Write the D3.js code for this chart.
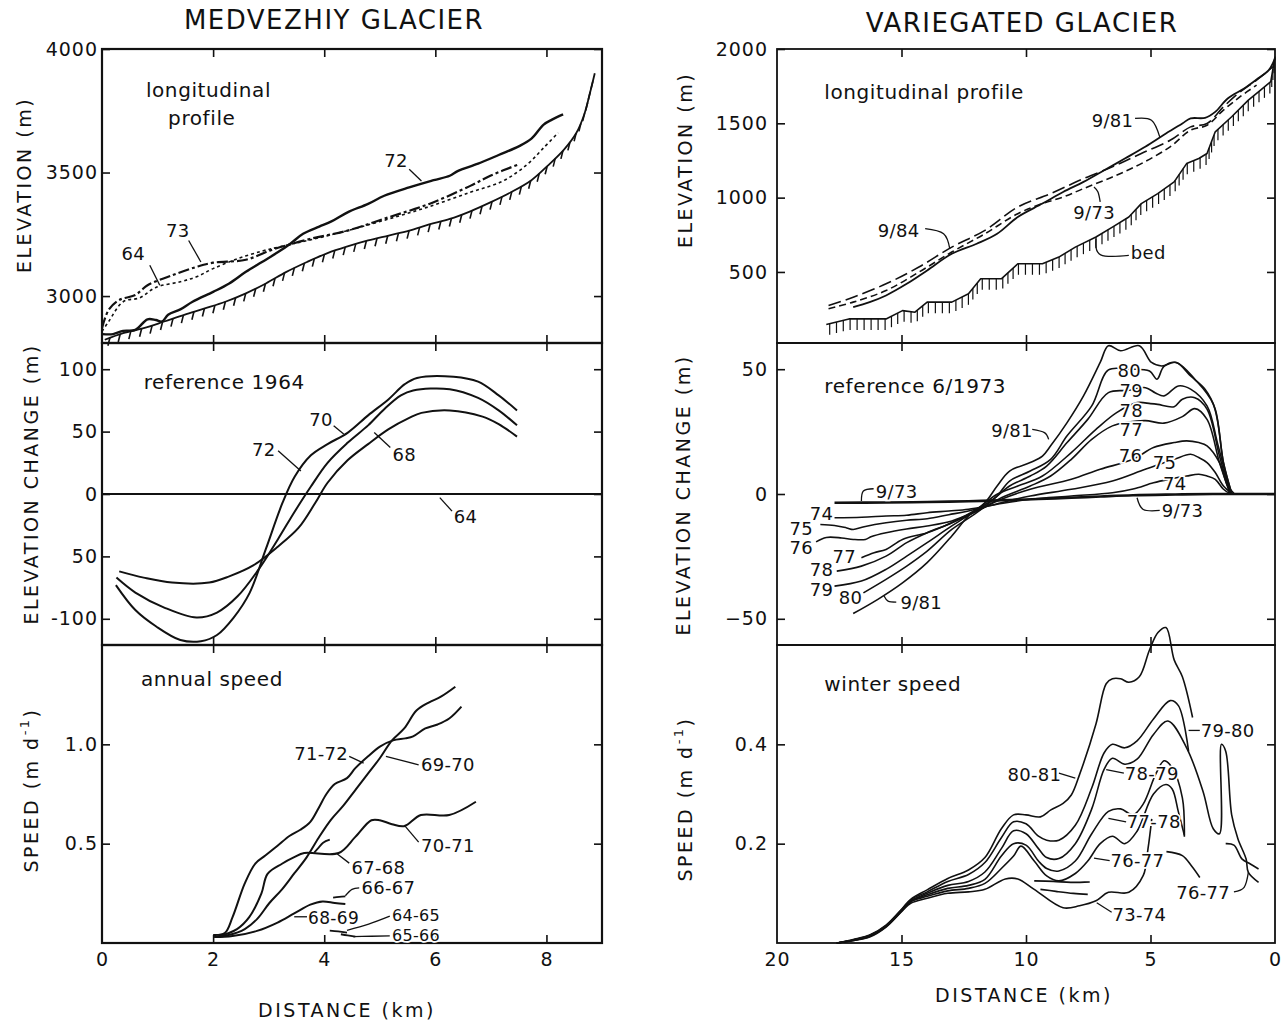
<!DOCTYPE html>
<html>
<head>
<meta charset="utf-8">
<script src="https://cdn.jsdelivr.net/npm/d3@7"></script>
<style>
  body { margin: 0; background: #fff; }
  text { font-family: "DejaVu Sans", sans-serif; fill: #111; }
  .tick text { font-size: 19px; letter-spacing: 1px; }
</style>
</head>
<body>
<svg id="chart"></svg>
<script>
// ---------- tick values / labels ----------
var medDistTicks = [0, 2, 4, 6, 8];
var medElevTicks = [3000, 3500, 4000];
var medChangeTicks = [-100, -50, 0, 50, 100];
var medChangeLabels = ["-100", "50", "0", "50", "100"];
var medSpeedTicks = [0.5, 1.0];
var varDistTicks = [20, 15, 10, 5, 0];
var varElevTicks = [500, 1000, 1500, 2000];
var varChangeTicks = [-50, 0, 50];
var varSpeedTicks = [0.2, 0.4];

// ---------- Medvezhiy: longitudinal profile (km, m) ----------
var med72 = [[0.01,2846],[0.2,2846],[0.38,2859],[0.6,2863],[0.82,2906],[0.97,2903],[1.08,2897],[1.19,2924],[1.41,2946],[1.63,2977],[2.0,3017],[2.29,3051],[2.59,3098],[2.88,3138],[3.17,3178],[3.39,3212],[3.62,3252],[3.91,3281],[4.13,3302],[4.42,3339],[4.79,3373],[5.08,3406],[5.53,3440],[5.97,3469],[6.26,3487],[6.41,3507],[6.77,3536],[7.14,3571],[7.51,3607],[7.73,3637],[7.95,3694],[8.1,3714],[8.3,3735]];
var med73 = [[0.0,2870],[0.12,2944],[0.31,2984],[0.6,3004],[0.71,3024],[0.82,3044],[1.26,3084],[1.7,3118],[2.0,3135],[2.59,3147],[3.03,3185],[3.32,3205],[3.76,3232],[4.42,3265],[5.16,3319],[5.89,3373],[6.63,3446],[6.99,3487],[7.51,3534]];
var med64 = [[0.0,2857],[0.12,2897],[0.38,2977],[0.68,2993],[0.97,3035],[1.41,3058],[1.7,3078],[2.0,3111],[2.44,3151],[2.88,3182],[3.17,3198],[3.76,3228],[4.42,3265],[5.16,3312],[5.89,3362],[6.63,3420],[7.22,3466],[7.66,3534],[7.95,3600],[8.21,3661]];
var medBed = [[0.05,2823],[0.38,2850],[0.75,2870],[1.12,2897],[1.48,2924],[1.85,2950],[2.22,2977],[2.59,3011],[2.95,3051],[3.32,3098],[3.69,3138],[4.06,3174],[4.42,3201],[4.79,3225],[5.16,3245],[5.53,3265],[5.89,3290],[6.26,3312],[6.63,3343],[6.99,3379],[7.36,3420],[7.73,3469],[8.02,3527],[8.32,3594],[8.54,3661],[8.68,3735],[8.79,3828],[8.87,3902]];

// ---------- Medvezhiy: elevation change, reference 1964 (km, m) ----------
var medChg64 = [[0,0],[9,0]];
var medChg68 = [[0.31,-62],[0.75,-67],[1.26,-71],[1.93,-71],[2.29,-66],[2.73,-57],[3.17,-42],[3.54,-27],[3.84,-7],[4.06,9],[4.42,27],[4.79,40],[5.16,52],[5.53,61],[5.75,65],[6.26,67],[6.85,62],[7.14,56],[7.47,46]];
var medChg70 = [[0.26,-67],[0.6,-79],[1.12,-91],[1.7,-99],[2.07,-95],[2.44,-82],[2.81,-61],[3.17,-36],[3.47,-14],[3.76,6],[4.06,25],[4.42,41],[4.79,55],[5.08,68],[5.38,79],[5.6,83],[6.26,84],[6.77,77],[7.14,67],[7.47,55]];
var medChg72 = [[0.25,-73],[0.6,-93],[0.97,-106],[1.41,-117],[1.78,-118],[2.07,-113],[2.37,-99],[2.66,-79],[2.95,-44],[3.25,-7],[3.47,14],[3.76,31],[4.06,40],[4.42,49],[4.79,63],[5.16,76],[5.45,88],[5.67,93],[6.33,94],[6.77,90],[7.14,79],[7.47,67]];

// ---------- Medvezhiy: annual speed (km, m/d) ----------
var medSpd7172 = [[2.0,0.04],[2.21,0.05],[2.35,0.13],[2.57,0.30],[2.76,0.40],[2.94,0.44],[3.16,0.49],[3.38,0.54],[3.57,0.57],[3.75,0.61],[3.9,0.68],[4.04,0.75],[4.19,0.80],[4.41,0.83],[4.56,0.88],[4.79,0.94],[5.01,0.99],[5.24,1.02],[5.46,1.03],[5.6,1.04],[5.82,1.08],[6.04,1.10],[6.25,1.13],[6.47,1.19]];
var medSpd6970 = [[2.02,0.03],[2.28,0.04],[2.57,0.07],[2.79,0.12],[3.01,0.20],[3.24,0.27],[3.46,0.35],[3.68,0.43],[3.9,0.53],[4.12,0.62],[4.34,0.69],[4.56,0.77],[4.78,0.85],[5.0,0.93],[5.22,1.02],[5.44,1.08],[5.66,1.17],[5.88,1.21],[6.1,1.24],[6.36,1.29]];
var medSpd7071 = [[2.06,0.03],[2.43,0.07],[2.65,0.13],[2.87,0.25],[2.98,0.348],[3.24,0.399],[3.46,0.432],[3.64,0.453],[4.26,0.453],[4.56,0.534],[4.85,0.618],[5.0,0.618],[5.22,0.598],[5.44,0.588],[5.74,0.644],[6.25,0.644],[6.73,0.711]];
var medSpd6768 = [[3.82,0.455],[3.9,0.48],[3.98,0.505],[4.1,0.52]];
var medSpd6869 = [[2.02,0.03],[2.35,0.035],[2.79,0.061],[3.16,0.103],[3.46,0.149],[3.75,0.193],[3.97,0.209],[4.19,0.201],[4.38,0.196]];
var medSpd6667 = [[4.16,0.228],[4.27,0.232],[4.38,0.235]];
var medSpd6465 = [[4.1,0.062],[4.25,0.058],[4.41,0.052]];
var medSpd6566 = [[4.3,0.044],[4.42,0.038],[4.56,0.032]];

// ---------- Variegated: longitudinal profile (km, m) ----------
var var981 = [[16.94,263],[16.28,297],[15.62,342],[14.79,420],[13.97,510],[12.98,622],[11.98,690],[11.16,757],[10.33,870],[9.34,960],[8.51,1038],[7.69,1106],[6.86,1184],[6.03,1263],[5.21,1342],[4.38,1431],[3.72,1499],[3.39,1533],[2.81,1537],[2.4,1577],[1.9,1667],[1.24,1735],[0.74,1795],[0.25,1858],[0.0,1937]];
var var984 = [[17.93,274],[16.94,330],[15.62,420],[14.3,533],[12.98,667],[11.65,780],[10.33,937],[9.01,1027],[7.69,1128],[6.53,1207],[5.37,1297],[4.21,1386],[3.39,1476],[2.73,1499],[2.07,1611],[1.4,1712],[0.74,1791],[0.08,1881]];
var var973 = [[17.93,252],[16.94,297],[15.62,375],[14.3,499],[12.98,634],[11.65,757],[10.33,892],[9.34,960],[8.51,1004],[7.69,1061],[6.53,1139],[5.37,1229],[4.21,1342],[3.39,1454],[2.73,1487],[2.07,1589],[1.4,1679],[0.74,1757]];
var varBed = [[18.02,146],[17.11,184],[15.62,184],[14.96,240],[14.46,229],[13.97,297],[12.98,297],[12.31,353],[11.82,454],[10.99,454],[10.33,555],[9.34,555],[8.68,600],[8.02,667],[7.19,735],[6.53,802],[5.87,870],[5.37,960],[4.71,1027],[4.05,1106],[3.55,1229],[3.06,1263],[2.73,1297],[2.4,1443],[1.74,1544],[1.07,1656],[0.58,1724],[0.17,1780],[0.0,1948]];

// ---------- Variegated: elevation change, reference 6/1973 (km, m) ----------
var varChg973 = [[17.69,-3.5],[15.6,-3.4],[13.97,-3.2],[12.3,-2.9],[10.66,-2.4],[9.5,-2.0],[8.18,-1.5],[7.0,-1.0],[5.7,-0.5],[4.0,-0.2],[2.5,0],[1.5,0],[0,0]];
var varChg74 = [[17.69,-9.5],[16.6,-9.3],[15.62,-8.8],[14.8,-8.5],[13.97,-7.5],[13.1,-6.8],[12.31,-6.1],[11.16,-4.1],[9.83,-2.1],[8.18,-0.8],[6.53,0.5],[5.7,2.0],[4.88,4.5],[4.2,6.0],[3.55,7.2],[3.06,7.9],[2.73,7.2],[2.4,5.9],[2.07,1.9],[1.82,0.3],[1.5,0]];
var varChg75 = [[18.26,-12.2],[17.69,-12.6],[17.2,-13.6],[16.94,-14.2],[16.5,-13.1],[15.62,-11.5],[14.79,-10.5],[13.97,-9.9],[13.1,-8.3],[12.31,-6.8],[10.99,-3.5],[9.83,-0.8],[8.18,1.9],[6.53,5.2],[5.21,9.9],[4.05,13.9],[3.39,15.9],[3.06,14.6],[2.73,12.6],[2.4,8.6],[2.07,3.2],[1.74,0.3]];
var varChg76 = [[18.43,-19.2],[18.02,-17.4],[17.4,-17.6],[16.94,-18.2],[16.45,-18.2],[16.2,-17.0],[15.62,-15.5],[14.8,-14.0],[13.97,-12.8],[12.98,-10.8],[11.98,-6.8],[10.99,-2.1],[9.83,1.9],[8.18,5.9],[7.02,9.9],[5.7,13.9],[4.88,18.6],[4.05,20.6],[3.55,21.3],[3.06,20.6],[2.73,19.3],[2.23,12.6],[1.9,3.2],[1.65,0.3]];
var varChg77 = [[16.61,-25.5],[16.1,-23.5],[15.62,-22.2],[14.96,-18.2],[13.97,-15.5],[12.98,-11.5],[11.82,-6.1],[10.99,-1.5],[9.83,3.2],[9.01,7.2],[8.18,13.9],[7.36,21.9],[6.53,27.3],[5.9,28.8],[5.21,29.4],[4.46,28.4],[3.72,31.0],[3.22,34.2],[2.73,29.9],[2.23,12.6],[1.82,0.5]];
var varChg78 = [[17.6,-30.9],[16.61,-28.9],[15.62,-24.9],[14.79,-19.5],[13.97,-15.5],[12.98,-11.5],[11.98,-6.1],[11.16,-0.1],[10.33,3.2],[9.34,7.2],[8.18,16.6],[7.19,25.9],[6.36,32.6],[5.54,36.6],[5.0,36.2],[4.71,35.9],[4.05,35.0],[3.72,38.0],[3.22,38.6],[2.73,34.0],[2.23,15.2],[1.82,0.5]];
var varChg79 = [[17.69,-36.9],[16.61,-34.9],[15.62,-30.2],[14.79,-24.9],[13.97,-19.5],[12.98,-12.8],[12.15,-7.5],[11.32,-2.1],[10.66,3.2],[9.83,7.2],[9.17,11.2],[8.35,20.6],[7.52,29.9],[6.69,40.6],[5.9,41.5],[5.2,42.6],[4.8,40.5],[4.46,39.3],[3.88,43.3],[3.39,42.0],[2.73,35.3],[2.3,20.0],[1.8,0.5]];
var varChg80 = [[16.53,-39.6],[15.62,-34.2],[14.79,-28.9],[13.97,-22.9],[12.98,-14.2],[11.98,-7.5],[11.16,-0.8],[10.66,5.2],[9.83,9.2],[9.01,13.9],[8.35,23.3],[7.36,35.3],[6.69,49.7],[5.87,50],[5.04,49.3],[4.74,46.0],[4.46,51.1],[3.97,52.7],[3.39,47.3],[2.81,42.0],[2.4,34.0],[2.07,12.6],[1.74,0.3]];
var varChg981 = [[16.94,-47.9],[15.95,-42.2],[14.96,-35.6],[13.97,-27.5],[12.98,-16.8],[12.31,-8.8],[11.65,-3.5],[11.16,3.2],[10.66,9.2],[9.83,12.6],[9.34,15.2],[9.01,19.3],[8.35,28.6],[7.69,39.3],[7.02,52.7],[6.69,59.4],[6.2,57.4],[5.45,59.4],[4.96,52.7],[4.55,51.3],[3.97,52.7],[3.22,46.0],[2.48,36.0],[2.07,12.6],[1.74,0.3]];

// ---------- Variegated: winter speed (km, m/d) ----------
var varSpd8081 = [[17.6,0],[16.94,0.007],[16.28,0.016],[15.62,0.036],[14.96,0.07],[14.63,0.088],[13.97,0.107],[13.14,0.13],[12.31,0.147],[11.65,0.172],[10.99,0.23],[10.5,0.258],[10.0,0.258],[9.42,0.254],[9.0,0.268],[8.51,0.281],[8.18,0.298],[7.85,0.339],[7.19,0.441],[6.78,0.522],[6.53,0.532],[6.2,0.532],[5.87,0.525],[5.45,0.536],[5.04,0.59],[4.7,0.625],[4.38,0.635],[4.05,0.57],[3.72,0.536],[3.31,0.454]];
var varSpd7980 = [[17.6,0],[16.94,0.006],[16.28,0.015],[15.62,0.035],[14.96,0.069],[14.63,0.087],[13.97,0.103],[13.14,0.124],[12.31,0.138],[11.65,0.162],[10.99,0.212],[10.5,0.244],[10.0,0.24],[9.5,0.215],[9.17,0.207],[8.68,0.207],[8.02,0.237],[7.36,0.312],[6.86,0.383],[6.53,0.4],[6.03,0.393],[5.54,0.407],[4.88,0.451],[4.21,0.488],[3.88,0.478],[3.47,0.386]];
var varSpd7879 = [[17.6,0],[16.94,0.006],[16.28,0.015],[15.62,0.034],[14.96,0.068],[14.63,0.085],[13.97,0.1],[13.14,0.116],[12.31,0.124],[11.65,0.143],[10.99,0.19],[10.5,0.226],[10.0,0.22],[9.5,0.19],[9.17,0.172],[8.68,0.17],[8.02,0.2],[7.36,0.27],[6.86,0.35],[6.53,0.372],[6.03,0.36],[5.54,0.37],[4.88,0.42],[4.3,0.447],[3.55,0.393],[2.89,0.305],[2.48,0.23],[2.23,0.22],[2.15,0.4],[1.98,0.386],[1.74,0.258],[1.49,0.21],[1.16,0.169],[1.07,0.142],[0.66,0.122]];
var varSpd7778 = [[17.6,0],[16.94,0.005],[16.28,0.014],[15.62,0.034],[14.96,0.067],[14.63,0.084],[13.97,0.097],[13.14,0.11],[12.31,0.116],[11.65,0.128],[10.99,0.175],[10.5,0.2],[10.0,0.197],[9.5,0.165],[9.17,0.15],[8.68,0.145],[8.02,0.165],[7.36,0.22],[6.69,0.265],[6.2,0.27],[5.7,0.258],[5.29,0.28],[4.79,0.34],[4.45,0.367],[4.13,0.353],[3.72,0.292],[3.64,0.214]];
var varSpd7677 = [[17.6,0],[16.94,0.005],[16.28,0.013],[15.62,0.033],[14.96,0.066],[14.63,0.083],[13.97,0.094],[13.14,0.105],[12.31,0.11],[11.65,0.12],[10.99,0.15],[10.5,0.175],[10.2,0.195],[9.67,0.165],[9.17,0.135],[8.68,0.125],[8.02,0.14],[7.52,0.165],[7.02,0.2],[6.53,0.215],[6.03,0.2],[5.54,0.225],[4.88,0.3],[4.38,0.319],[4.13,0.31],[3.88,0.264],[3.64,0.217]];
var varSpd7677b = [[4.36,0.184],[3.72,0.176],[3.35,0.155],[3.02,0.132]];
var varSpd7374 = [[17.6,0],[16.94,0.005],[16.28,0.012],[15.62,0.032],[14.96,0.065],[14.63,0.08],[13.97,0.09],[13.14,0.1],[12.31,0.103],[11.65,0.108],[10.83,0.129],[10.33,0.129],[9.67,0.108],[8.51,0.071],[7.85,0.075],[7.19,0.085],[6.69,0.102],[5.87,0.102],[5.29,0.136],[5.1,0.19],[4.95,0.25]];
var varSpdSeg1 = [[9.67,0.125],[8.9,0.124],[8.2,0.122],[7.44,0.123]];
var varSpdSeg2 = [[9.42,0.108],[8.8,0.104],[8.1,0.1],[7.52,0.098]];
var varSpdRight = [[1.98,0.2],[1.65,0.197],[1.32,0.169],[0.99,0.159],[0.66,0.149]];

// ---------- layout ----------
var svg = d3.select("#chart").attr("width", 1285).attr("height", 1025);

var rows = [{ top: 49, bottom: 343 }, { top: 343, bottom: 645 }, { top: 645, bottom: 943 }];

function panel(cfg) {
  var x = d3.scaleLinear().domain(cfg.xDomain).range([cfg.left, cfg.right]);
  var y = d3.scaleLinear().domain(cfg.yDomain).range([cfg.bottom, cfg.top]);
  var g = svg.append("g");

  // inward ticks on all four sides
  var strip = function (s) { s.select(".domain").remove(); s.selectAll("line").attr("stroke", "#111").attr("stroke-width", 1.6); };
  g.append("g").attr("transform", "translate(0," + cfg.top + ")")
    .call(d3.axisBottom(x).tickValues(cfg.innerX).tickSize(8).tickFormat("")).call(strip);
  g.append("g").attr("transform", "translate(0," + cfg.bottom + ")")
    .call(d3.axisTop(x).tickValues(cfg.innerX).tickSize(8).tickFormat("")).call(strip);
  g.append("g").attr("transform", "translate(" + cfg.left + ",0)")
    .call(d3.axisRight(y).tickValues(cfg.yTicks).tickSize(8).tickFormat("")).call(strip);
  g.append("g").attr("transform", "translate(" + cfg.right + ",0)")
    .call(d3.axisLeft(y).tickValues(cfg.yTicks).tickSize(8).tickFormat("")).call(strip);

  // y tick labels
  g.append("g").attr("transform", "translate(" + cfg.left + ",0)")
    .call(d3.axisLeft(y).tickValues(cfg.yTicks).tickSize(0).tickPadding(cfg.labelPad)
      .tickFormat(function (d, i) { return cfg.yLabels ? cfg.yLabels[i] : cfg.yFormat(d); }))
    .call(function (s) { s.select(".domain").remove(); });

  // x tick labels (bottom row only)
  if (cfg.xLabels) {
    g.append("g").attr("transform", "translate(0," + cfg.bottom + ")")
      .call(d3.axisBottom(x).tickValues(cfg.xLabels).tickSize(0).tickPadding(10).tickFormat(d3.format("d")))
      .call(function (s) { s.select(".domain").remove(); });
  }

  g.append("rect")
    .attr("x", cfg.left).attr("y", cfg.top)
    .attr("width", cfg.right - cfg.left).attr("height", cfg.bottom - cfg.top)
    .attr("fill", "none").attr("stroke", "#111").attr("stroke-width", cfg.frame);

  return { x: x, y: y, g: g };
}

function curve(p, data, opt) {
  opt = opt || {};
  var line = d3.line()
    .x(function (d) { return p.x(d[0]); })
    .y(function (d) { return p.y(d[1]); })
    .curve(opt.curve || d3.curveCatmullRom.alpha(0.5));
  return p.g.append("path")
    .datum(data)
    .attr("d", line)
    .attr("fill", "none")
    .attr("stroke", "#111")
    .attr("stroke-width", opt.width || 1.8)
    .attr("stroke-linejoin", "round")
    .attr("stroke-dasharray", opt.dash || null);
}

function hachure(p, path, step, len, dx, w) {
  var node = path.node(), total = node.getTotalLength();
  var pts = d3.range(step / 2, total, step).map(function (s) { return node.getPointAtLength(s); });
  p.g.append("g").selectAll("line").data(pts).enter().append("line")
    .attr("x1", function (d) { return d.x; })
    .attr("y1", function (d) { return d.y; })
    .attr("x2", function (d) { return d.x + dx; })
    .attr("y2", function (d) { return d.y + len; })
    .attr("stroke", "#111").attr("stroke-width", w);
}

function label(p, text, at, size, leader, anchor) {
  if (leader) {
    p.g.append("path")
      .datum(leader)
      .attr("d", d3.line().x(function (d) { return p.x(d[0]); }).y(function (d) { return p.y(d[1]); }).curve(d3.curveNatural))
      .attr("fill", "none").attr("stroke", "#111").attr("stroke-width", 1.3);
  }
  p.g.append("text")
    .attr("x", p.x(at[0])).attr("y", p.y(at[1]))
    .attr("dominant-baseline", "central")
    .attr("text-anchor", anchor || "start")
    .style("font-size", (size || 18) + "px")
    .style("letter-spacing", size >= 19 ? "0.6px" : "0.3px")
    .style("paint-order", "stroke")
    .style("stroke", "#fff").style("stroke-width", 3.5)
    .text(text);
}

function axisTitle(x, y, parts, rotate) {
  var t = svg.append("text")
    .attr("transform", "translate(" + x + "," + y + ")" + (rotate ? " rotate(-90)" : ""))
    .attr("text-anchor", "middle").attr("dominant-baseline", "central")
    .style("font-size", "19px").style("letter-spacing", "2.5px");
  parts.forEach(function (s) {
    var ts = t.append("tspan").text(s[0]);
    if (s[1]) ts.attr("dy", s[1]);
    if (s[2]) ts.style("font-size", s[2]);
  });
}

var L = { left: 102, right: 602, xDomain: [0, 9], innerX: [2, 4, 6, 8], labelPad: 4, frame: 2.2 };
var R = { left: 777, right: 1275, xDomain: [20, 0], innerX: [15, 10, 5], labelPad: 9, frame: 1.8 };

function cfg(side, row, extra) { return Object.assign({}, side, rows[row], extra); }

// ================= MEDVEZHIY =================
var m1 = panel(cfg(L, 0, { yDomain: [2810, 4000], yTicks: medElevTicks, yFormat: d3.format("d") }));
var m2 = panel(cfg(L, 1, { yDomain: [-121, 121], yTicks: medChangeTicks, yLabels: medChangeLabels }));
var m3 = panel(cfg(L, 2, { yDomain: [0, 1.5], yTicks: medSpeedTicks, yFormat: d3.format(".1f"), xLabels: medDistTicks }));

var mb = curve(m1, medBed, { width: 1.8 });
hachure(m1, mb, 11, 8, -2, 1.6);
curve(m1, med64, { width: 1.6, dash: "3,3" });
curve(m1, med73, { width: 2.2, dash: "11,3,3,3" });
curve(m1, med72, { width: 2.4 });
label(m1, "longitudinal", [0.79, 3835], 20);
label(m1, "profile", [1.19, 3721], 20);
label(m1, "72", [5.08, 3550], 18, [[5.53, 3513], [5.75, 3466]]);
label(m1, "73", [1.15, 3265], 18, [[1.56, 3225], [1.78, 3138]]);
label(m1, "64", [0.35, 3172], 18, [[0.86, 3125], [1.04, 3044]]);

curve(m2, medChg64, { width: 1.8, curve: d3.curveLinear });
curve(m2, medChg68, { width: 2 });
curve(m2, medChg70, { width: 2 });
curve(m2, medChg72, { width: 2 });
label(m2, "reference 1964", [0.75, 89.5], 20);
label(m2, "70", [3.73, 60], 18, [[4.17, 54.7], [4.35, 48]]);
label(m2, "72", [2.7, 35.9], 18, [[3.17, 34.6], [3.58, 18.5]]);
label(m2, "68", [5.23, 31.9], 18, [[4.9, 49.3], [5.19, 37.3]]);
label(m2, "64", [6.33, -17.7], 18, [[6.08, -2.9], [6.3, -13.7]]);

curve(m3, medSpd7172, { width: 2 });
curve(m3, medSpd6970, { width: 2 });
curve(m3, medSpd7071, { width: 2 });
curve(m3, medSpd6768, { width: 1.8 });
curve(m3, medSpd6869, { width: 2 });
curve(m3, medSpd6667, { width: 1.8 });
curve(m3, medSpd6465, { width: 1.8 });
curve(m3, medSpd6566, { width: 1.8 });
label(m3, "annual speed", [0.7, 1.328], 20);
label(m3, "71-72", [3.46, 0.956], 18, [[4.45, 0.939], [4.71, 0.905]]);
label(m3, "69-70", [5.74, 0.897], 18, [[5.11, 0.939], [5.7, 0.897]]);
label(m3, "70-71", [5.74, 0.492], 18, [[5.44, 0.593], [5.7, 0.508]]);
label(m3, "67-68", [4.49, 0.382], 18, [[4.23, 0.449], [4.45, 0.402]]);
label(m3, "66-67", [4.67, 0.28], 18, [[4.38, 0.238], [4.5, 0.27], [4.63, 0.277]]);
label(m3, "68-69", [3.71, 0.128], 17, [[3.46, 0.132], [3.69, 0.132]]);
label(m3, "64-65", [5.22, 0.14], 16, [[4.41, 0.064], [4.8, 0.095], [5.18, 0.135]]);
label(m3, "65-66", [5.22, 0.036], 16, [[4.52, 0.032], [4.85, 0.034], [5.18, 0.036]]);

// ================= VARIEGATED =================
var v1 = panel(cfg(R, 0, { yDomain: [22, 2000], yTicks: varElevTicks, yFormat: d3.format("d") }));
var v2 = panel(cfg(R, 1, { yDomain: [-60.5, 60.5], yTicks: varChangeTicks, yFormat: d3.format("d") }));
var v3 = panel(cfg(R, 2, { yDomain: [0, 0.6], yTicks: varSpeedTicks, yFormat: d3.format(".1f"), xLabels: varDistTicks }));

var vb = curve(v1, varBed, { width: 1.6, curve: d3.curveLinear });
hachure(v1, vb, 7, 11, 0, 1.2);
curve(v1, var973, { width: 1.6, dash: "7,4" });
curve(v1, var984, { width: 1.6, dash: "13,5" });
curve(v1, var981, { width: 1.8 });
label(v1, "longitudinal profile", [18.1, 1712], 20);
label(v1, "9/81", [7.36, 1521], 18, [[5.62, 1533], [4.96, 1521], [4.63, 1409]]);
label(v1, "9/84", [15.95, 780], 18, [[14.05, 791], [13.31, 757], [13.06, 656]]);
label(v1, "9/73", [8.1, 903], 18, [[7.02, 971], [7.11, 1038], [7.27, 1072]]);
label(v1, "bed", [5.79, 629], 18, [[5.87, 611], [7.0, 615], [7.19, 724]]);

[varChg973, varChg74, varChg75, varChg76, varChg77, varChg78, varChg79, varChg80, varChg981].forEach(function (s, i) {
  curve(v2, s, { width: i === 0 ? 2.6 : 1.6 });
});
label(v2, "reference 6/1973", [18.1, 43.3], 20);
label(v2, "9/73", [16.03, 1.2], 18, [[16.12, 2.1], [16.53, 1.2], [16.61, -2.8]]);
label(v2, "74", [18.68, -7.75], 18);
label(v2, "75", [19.5, -13.8], 18);
label(v2, "76", [19.5, -21.5], 18);
label(v2, "77", [17.77, -24.9], 18);
label(v2, "78", [18.68, -30.2], 18);
label(v2, "79", [18.68, -38.2], 18);
label(v2, "80", [17.52, -41.6], 18);
label(v2, "9/81", [15.04, -43.6], 18, [[15.7, -40.9], [15.54, -42.9], [15.21, -43.3]]);
label(v2, "9/81", [11.4, 25.3], 18, [[9.75, 25.9], [9.26, 24.6], [9.09, 21.9]]);
label(v2, "80", [6.33, 49.3], 18);
label(v2, "79", [6.25, 41.3], 18);
label(v2, "78", [6.25, 33.3], 18);
label(v2, "77", [6.25, 25.9], 18);
label(v2, "76", [6.28, 15.5], 18);
label(v2, "75", [4.91, 12.6], 18);
label(v2, "74", [4.5, 4.1], 18);
label(v2, "9/73", [4.55, -6.8], 18, [[5.54, -1.5], [5.29, -6.2], [4.63, -6.6]]);

[varSpd7374, varSpd7677, varSpd7778, varSpd7879, varSpd7980, varSpd8081,
 varSpd7677b, varSpdSeg1, varSpdSeg2, varSpdRight].forEach(function (s) {
  curve(v3, s, { width: 1.6 });
});
label(v3, "winter speed", [18.1, 0.522], 20);
label(v3, "80-81", [10.74, 0.339], 18, [[8.68, 0.342], [8.02, 0.332]]);
label(v3, "79-80", [2.98, 0.427], 18, [[3.47, 0.428], [3.02, 0.428]]);
label(v3, "78-79", [6.03, 0.342], 18, [[6.78, 0.349], [6.07, 0.342]]);
label(v3, "77-78", [5.95, 0.244], 18, [[6.69, 0.251], [5.98, 0.244]]);
label(v3, "76-77", [6.61, 0.166], 18, [[7.27, 0.171], [6.64, 0.166]]);
label(v3, "73-74", [6.53, 0.058], 18, [[7.16, 0.081], [6.56, 0.062]]);
label(v3, "76-77", [3.97, 0.102], 18, [[1.65, 0.103], [1.24, 0.112], [1.07, 0.142]]);

// ---------- titles ----------
svg.append("text").attr("x", 334).attr("y", 20).attr("text-anchor", "middle").attr("dominant-baseline", "central")
  .style("font-size", "26px").style("letter-spacing", "1.5px").text("MEDVEZHIY  GLACIER");
svg.append("text").attr("x", 1022).attr("y", 23).attr("text-anchor", "middle").attr("dominant-baseline", "central")
  .style("font-size", "26px").style("letter-spacing", "1.5px").text("VARIEGATED GLACIER");

axisTitle(24, 185, [["ELEVATION (m)"]], true);
axisTitle(31, 484, [["ELEVATION CHANGE (m)"]], true);
axisTitle(31, 790, [["SPEED (m d"], ["-1", -7, "13px"], [")", 7]], true);
axisTitle(685, 160, [["ELEVATION (m)"]], true);
axisTitle(683, 495, [["ELEVATION CHANGE (m)"]], true);
axisTitle(685, 799, [["SPEED (m d"], ["-1", -7, "13px"], [")", 7]], true);
axisTitle(347, 1010, [["DISTANCE (km)"]], false);
axisTitle(1024, 995, [["DISTANCE (km)"]], false);
</script>
</body>
</html>
